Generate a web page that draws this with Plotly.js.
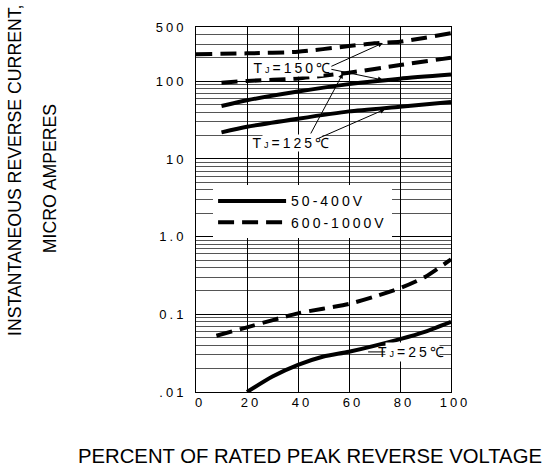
<!DOCTYPE html>
<html>
<head>
<meta charset="utf-8">
<script src="https://cdn.plot.ly/plotly-3.0.1.min.js"></script>
<style>
  html, body { margin: 0; padding: 0; background: #fff; }
  #chart { width: 551px; height: 470px; }
  .xtick text, .ytick text { letter-spacing: 3px; }
  .legendtext { letter-spacing: 3px; }
  .annotation[data-index="3"] text, .annotation[data-index="4"] text, .annotation[data-index="5"] text { letter-spacing: 3px; }
</style>
</head>
<body>
<div id="chart"></div>
<script>
// ---- data ----
const x150Solid = [10, 20, 40, 60, 80, 100];
const y150Solid = [48, 57, 74, 92, 108, 122];

const x125Solid = [10, 20, 40, 60, 80, 100];
const y125Solid = [22, 26, 33, 41, 47, 54];

const x150Dash = [0, 20, 40, 60, 70, 80, 90, 100];
const y150Dash = [223, 229, 240, 284, 308, 323, 364, 415];

const x125Dash = [10, 20, 40, 60, 80, 100];
const y125Dash = [96, 101, 109, 129, 162, 201];

const x25Dash = [8, 20, 40, 60, 70, 80, 90, 100];
const y25Dash = [0.053, 0.068, 0.103, 0.136, 0.169, 0.217, 0.305, 0.51];

const x25Solid = [20, 30, 40, 50, 60, 80, 90, 100];
const y25Solid = [0.01, 0.0158, 0.0223, 0.0286, 0.033, 0.048, 0.06, 0.08];

const seriesNames = ['50-400V', '600-1000V'];
const xTickVals = [0, 20, 40, 60, 80, 100];
const xTickText = ['0', '20', '40', '60', '80', '100'];
const yTickVals = [0.01, 0.1, 1, 10, 100, 500];
const yTickText = ['.01', '0.1', '1.0', '10', '100', '500'];
const yMinorVals = [];
[0.01, 0.1, 1, 10, 100].forEach(d => { for (let k = 2; k <= 9; k++) { const v = d * k; if (v <= 500) yMinorVals.push(+v.toPrecision(3)); } });

const tempLabels = ['T<span style="font-size:9px">J</span>=150\u2103', 'T<span style="font-size:9px">J</span>=125\u2103', 'T<span style="font-size:9px">J</span>=25\u2103'];
const yTitle1 = 'INSTANTANEOUS REVERSE CURRENT,';
const yTitle2 = 'MICRO AMPERES';
const xTitle = 'PERCENT OF RATED PEAK REVERSE VOLTAGE';

const FONT = 'Liberation Sans, Arial, sans-serif';
const solid = { color: '#000', width: 4, shape: 'spline', smoothing: 0.6 };
const dashed = { color: '#000', width: 4, dash: '16px,8px', shape: 'spline', smoothing: 0.6 };

const traces = [
  { x: x150Solid, y: y150Solid, mode: 'lines', line: solid, name: seriesNames[0], showlegend: true },
  { x: x150Dash, y: y150Dash, mode: 'lines', line: dashed, name: seriesNames[1], showlegend: true },
  { x: x125Solid, y: y125Solid, mode: 'lines', line: solid, name: seriesNames[0], showlegend: false },
  { x: x125Dash, y: y125Dash, mode: 'lines', line: dashed, name: seriesNames[1], showlegend: false },
  { x: x25Solid, y: y25Solid, mode: 'lines', line: solid, name: seriesNames[0], showlegend: false },
  { x: x25Dash, y: y25Dash, mode: 'lines', line: dashed, name: seriesNames[1], showlegend: false }
];

const arrowBase = { text: '', showarrow: true, xref: 'x', yref: 'y', axref: 'x', ayref: 'y',
  arrowhead: 2, arrowsize: 1, arrowwidth: 1, arrowcolor: '#000' };
const labelFont = { family: FONT, size: 14, color: '#000' };

const annotations = [
  // 0,1: y axis title lines
  { text: yTitle1, xref: 'paper', yref: 'paper', x: -0.71, y: 0.608, textangle: -90, showarrow: false,
    font: { family: FONT, size: 17.7, color: '#000' }, xanchor: 'center', yanchor: 'middle' },
  { text: yTitle2, xref: 'paper', yref: 'paper', x: -0.575, y: 0.584, textangle: -90, showarrow: false,
    font: { family: FONT, size: 17.7, color: '#000' }, xanchor: 'center', yanchor: 'middle' },
  // 2: x axis title
  { text: xTitle, xref: 'paper', yref: 'paper', x: 0.447, y: -0.175, showarrow: false,
    font: { family: FONT, size: 20.3, color: '#000' }, xanchor: 'center', yanchor: 'middle' },
  // 3,4,5: temperature labels
  { text: tempLabels[0], xref: 'x', yref: 'y', x: 38.3, y: 2.171, showarrow: false, bgcolor: '#fff',
    font: labelFont, borderpad: 0 },
  { text: tempLabels[1], xref: 'x', yref: 'y', x: 38.0, y: 1.206, showarrow: false, bgcolor: '#fff',
    font: labelFont, borderpad: 0 },
  { text: tempLabels[2], xref: 'x', yref: 'y', x: 67.5, y: -1.484, ax: 44, ay: 0, showarrow: true,
    arrowhead: 0, arrowwidth: 1, arrowcolor: '#000', bgcolor: '#fff', borderpad: 1, font: labelFont },
  // arrows
  Object.assign({}, arrowBase, { x: 73.3, y: 2.493, ax: 52.5, ay: 2.184 }),
  Object.assign({}, arrowBase, { x: 73.3, y: 2.017, ax: 52.5, ay: 2.158 }),
  Object.assign({}, arrowBase, { x: 57.6, y: 2.10, ax: 44.7, ay: 1.309 }),
  Object.assign({}, arrowBase, { x: 74.1, y: 1.64, ax: 47.5, ay: 1.258 })
];

const layout = {
  width: 551, height: 470,
  margin: { l: 196, r: 100, t: 27, b: 78, pad: 0 },
  paper_bgcolor: '#fff', plot_bgcolor: '#fff',
  font: { family: FONT, color: '#000', size: 13 },
  showlegend: true,
  legend: {
    x: 0.067, y: 0.566, xanchor: 'left', yanchor: 'top',
    bgcolor: '#fff', borderwidth: 0, itemwidth: 68,
    font: { family: FONT, size: 14, color: '#000' },
    traceorder: 'normal', tracegroupgap: 0
  },
  xaxis: {
    range: [0, 100], tickmode: 'array', tickvals: xTickVals, ticktext: xTickText,
    showgrid: true, gridcolor: '#000', gridwidth: 1,
    showline: true, linecolor: '#000', linewidth: 1, mirror: true,
    zeroline: false, ticks: '', ticklabelstandoff: -2, ticklabelshift: 4,
    tickfont: { family: FONT, size: 13, color: '#000' }
  },
  yaxis: {
    type: 'log', range: [Math.log10(0.01), Math.log10(500)],
    tickmode: 'array', tickvals: yTickVals, ticktext: yTickText,
    showgrid: true, gridcolor: '#000', gridwidth: 1,
    showline: true, linecolor: '#000', linewidth: 1, mirror: true,
    zeroline: false, ticks: '', ticklabelstandoff: 6,
    tickfont: { family: FONT, size: 13, color: '#000' },
    minor: { tickmode: 'array', tickvals: yMinorVals, showgrid: true, gridcolor: '#555', gridwidth: 1, ticks: '' }
  },
  annotations: annotations
};

Plotly.newPlot('chart', traces, layout, { staticPlot: true, displayModeBar: false });
</script>
</body>
</html>
